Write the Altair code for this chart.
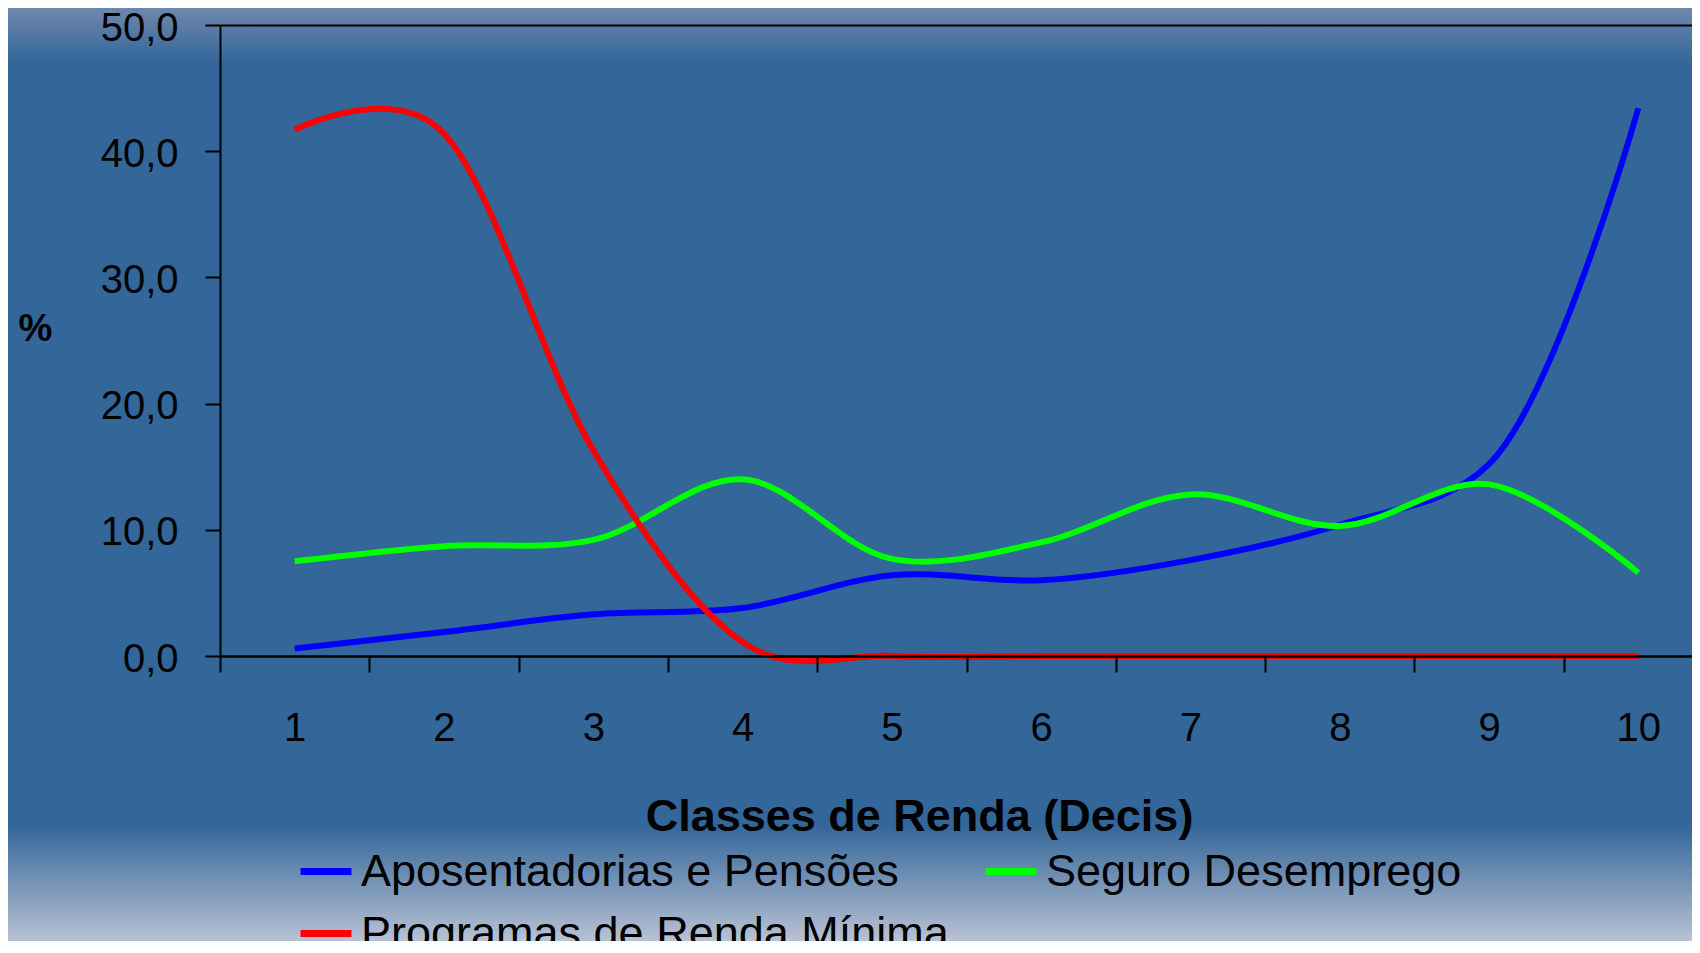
import altair as alt
import pandas as pd

# ---- data ----
decis = [1, 2, 3, 4, 5, 6, 7, 8, 9, 10]
aposentadorias = [0.6, 1.9, 3.3, 3.8, 6.4, 6.0, 7.6, 10.4, 15.2, 43.4]
seguro = [7.5, 8.7, 9.2, 14.0, 7.7, 9.0, 12.8, 10.3, 13.6, 6.6]
renda_minima = [41.7, 41.4, 16.3, 1.1, 0.0, 0.0, 0.0, 0.0, 0.0, 0.0]
series_names = ["Aposentadorias e Pensões", "Seguro Desemprego", "Programas de Renda Mínima"]
series_colors = ["#0000FF", "#00FF00", "#FF0000"]
legend_order = ["Aposentadorias e Pensões", "Programas de Renda Mínima", "Seguro Desemprego"]
y_ticks = [0, 10, 20, 30, 40, 50]

rows = []
for name, vals in zip(series_names, [aposentadorias, seguro, renda_minima]):
    for d, v in zip(decis, vals):
        rows.append({"decil": d, "valor": v, "serie": name})
df = pd.DataFrame(rows)

FONT = "Liberation Sans"
PLOT_W = 1472
PLOT_H = 631
BAND = 149.3
x_max = 0.5 + PLOT_W / BAND
x_scale = alt.Scale(domain=[0.5, x_max], nice=False, zero=False)

one = pd.DataFrame({"k": [0]})

bg_top = alt.Chart(one).mark_rect(
    clip=False,
    color=alt.LinearGradient(
        gradient="linear",
        stops=[alt.GradientStop(color="#6F88AC", offset=0),
               alt.GradientStop(color="#336699", offset=1)],
        x1=0, x2=0, y1=0, y2=1),
).encode(x=alt.value(-212), x2=alt.value(PLOT_W), y=alt.value(-17), y2=alt.value(38))

bg_bottom = alt.Chart(one).mark_rect(
    clip=False,
    color=alt.LinearGradient(
        gradient="linear",
        stops=[alt.GradientStop(color="#336699", offset=0),
               alt.GradientStop(color="#B8C2D4", offset=1)],
        x1=0, x2=0, y1=0, y2=1),
).encode(x=alt.value(-212), x2=alt.value(PLOT_W), y=alt.value(800), y2=alt.value(916))

x_enc = alt.X("decil:Q", scale=x_scale,
              axis=alt.Axis(values=decis, tickOffset=-BAND / 2, labelOffset=BAND / 2,
                            tickSize=16, tickWidth=2, tickColor="black",
                            domainColor="black", domainWidth=2.5, zindex=1,
                            labelFont=FONT, labelFontSize=40, labelColor="black",
                            labelPadding=36, labelOverlap=False, labelBound=False, labelFlush=False,
                            grid=False,
                            title="Classes de Renda (Decis)", titleFont=FONT, titleFontSize=45,
                            titleFontWeight="bold", titleColor="black",
                            titleX=699, titleY=174, titleAlign="center", titleBaseline="alphabetic"))
x_enc_noaxis = alt.X("decil:Q", scale=x_scale, axis=None)
y_enc = alt.Y("valor:Q", scale=alt.Scale(domain=[0, 50], nice=False),
              axis=alt.Axis(values=y_ticks,
                            labelExpr="replace(format(datum.value, '.1f'), '.', ',')",
                            tickSize=15, tickWidth=2, tickColor="black",
                            domainColor="black", domainWidth=2, zindex=1,
                            labelFont=FONT, labelFontSize=40, labelColor="black",
                            labelPadding=27, labelOffset=3, labelFlush=False, labelBound=False,
                            grid=False,
                            title="%", titleAngle=0, titleFont=FONT, titleFontSize=38,
                            titleFontWeight="bold", titleColor="black",
                            titleX=-185, titleY=304, titleAlign="center", titleBaseline="middle"))
color_enc = alt.Color("serie:N",
                      scale=alt.Scale(domain=series_names, range=series_colors),
                      legend=alt.Legend(orient="none", legendX=77, legendY=817.5, columns=2,
                                        values=legend_order,
                                        title=None, symbolType="stroke", symbolSize=2601,
                                        symbolStrokeWidth=7, labelFont=FONT, labelFontSize=45,
                                        labelColor="black", labelOffset=6, columnPadding=22,
                                        rowPadding=10, padding=0, labelLimit=1000, zindex=1))

lines_smooth = alt.Chart(df).mark_line(
    interpolate="catmull-rom", strokeWidth=6, clip=False
).encode(x=x_enc, y=y_enc, color=color_enc).transform_filter(
    alt.datum.serie != "Programas de Renda Mínima")

lines_red = alt.Chart(df).mark_line(
    interpolate="cardinal", strokeWidth=6, clip=False
).encode(x=x_enc_noaxis, y=y_enc, color=color_enc).transform_filter(
    alt.datum.serie == "Programas de Renda Mínima")

top_axis = alt.Chart(df).mark_point(opacity=0).encode(
    x=alt.X("decil:Q", scale=x_scale,
            axis=alt.Axis(orient="top", labels=False, ticks=False, domain=True, zindex=1,
                          domainColor="black", domainWidth=2, grid=False, title=None)),
    y=alt.value(0),
)

chart = alt.layer(bg_top, bg_bottom, lines_smooth, lines_red, top_axis).resolve_axis(
    x="independent").properties(
    width=PLOT_W, height=PLOT_H,
    autosize=alt.AutoSizeParams(type="none"),
    padding={"left": 212, "top": 17, "right": 0, "bottom": 285},
    background="#336699",
).configure_view(stroke=None)

chart.save("out.html", embed_options={"renderer": "svg", "actions": False})
